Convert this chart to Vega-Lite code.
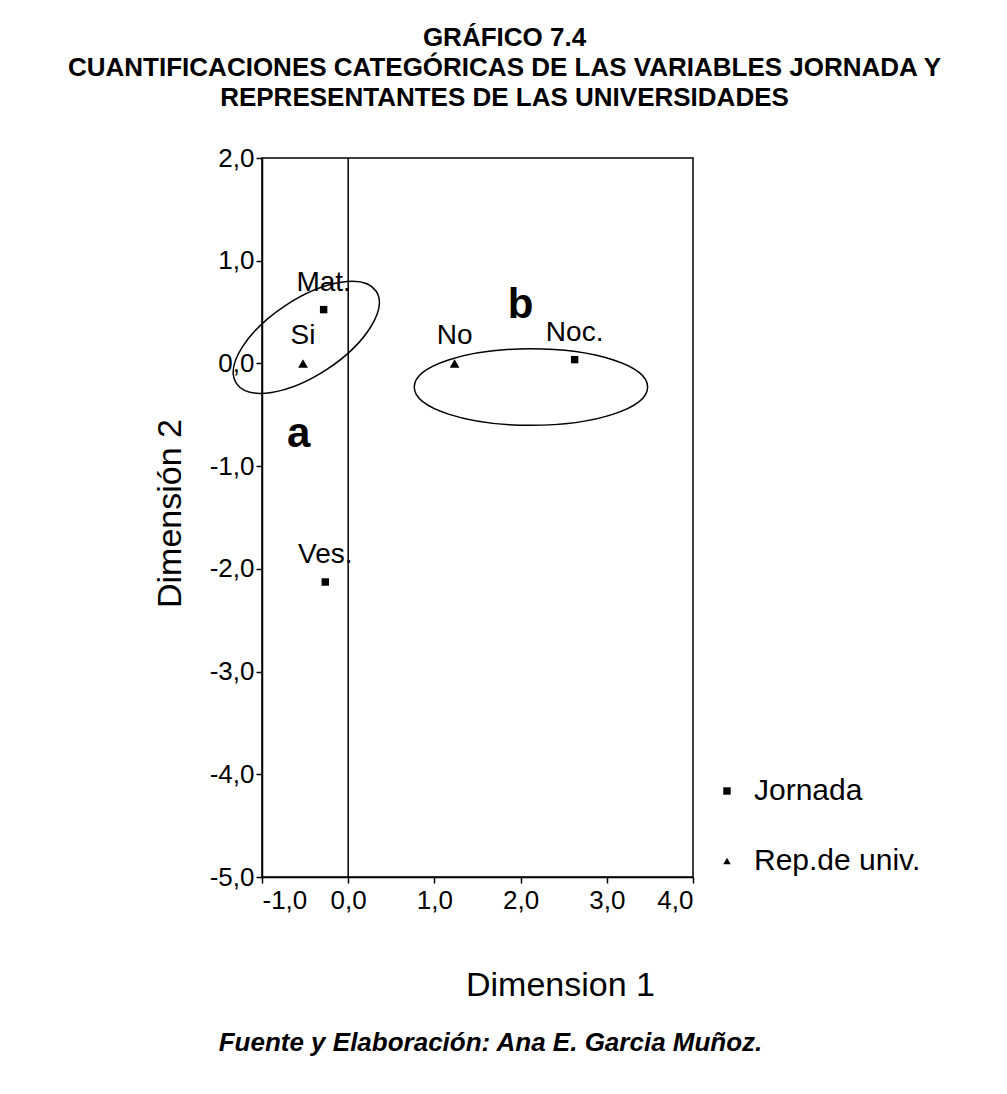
{
  "$schema": "https://vega.github.io/schema/vega-lite/v6.json",
  "width": 431,
  "height": 719,
  "autosize": {"type": "none"},
  "padding": {"left": 262, "top": 158, "right": 314, "bottom": 217},
  "background": "white",
  "config": {
    "font": "Liberation Sans",
    "view": {"stroke": "black", "strokeWidth": 1.5},
    "axis": {"grid": false, "domainColor": "black", "tickColor": "black", "labelColor": "black", "titleColor": "black", "labelFont": "Liberation Sans", "titleFont": "Liberation Sans"}
  },
  "title": {
    "text": ["GRÁFICO 7.4", "CUANTIFICACIONES CATEGÓRICAS DE LAS VARIABLES JORNADA Y", "REPRESENTANTES DE LAS UNIVERSIDADES"],
    "font": "Liberation Sans",
    "fontSize": 26,
    "fontWeight": "bold",
    "lineHeight": 30,
    "anchor": "middle",
    "frame": "group",
    "dx": 27,
    "offset": 34,
    "color": "black"
  },
  "datasets": {
    "puntos": [
      {"categoria": "Mat.", "variable": "Jornada", "dim1": -0.285, "dim2": 0.524},
      {"categoria": "Ves.", "variable": "Jornada", "dim1": -0.266, "dim2": -2.128},
      {"categoria": "Noc.", "variable": "Jornada", "dim1": 2.627, "dim2": 0.037},
      {"categoria": "Si", "variable": "Rep.de univ.", "dim1": -0.524, "dim2": 0.0},
      {"categoria": "No", "variable": "Rep.de univ.", "dim1": 1.234, "dim2": 0.0}
    ],
    "grupos": [
      {"grupo": "a", "dim1": -0.575, "dim2": -0.684},
      {"grupo": "b", "dim1": 2.0, "dim2": 0.566}
    ],
    "elipses": [
      {"grupo": "a", "dim1": -0.486, "dim2": 0.254},
      {"grupo": "b", "dim1": 2.12, "dim2": -0.23}
    ]
  },
  "layer": [
    {
      "encoding": {
        "x": {
          "field": "dim1", "type": "quantitative",
          "scale": {"domain": [-1, 4], "nice": false, "zero": false},
          "axis": {
            "values": [-1, 0, 1, 2, 3, 4],
            "labelExpr": "replace(replace(format(datum.value, '.1f'), '.', ','), '\u2212', '-')",
            "labelFontSize": 26, "tickSize": 6, "tickWidth": 1.5, "domainWidth": 1.5, "labelPadding": 4,
            "title": "Dimension 1", "titleFontSize": 34, "titleFontWeight": "normal",
            "titleX": 298, "titleY": 118, "titleBaseline": "alphabetic", "titleAlign": "center"
          }
        },
        "y": {
          "field": "dim2", "type": "quantitative",
          "scale": {"domain": [-5, 2], "nice": false, "zero": false},
          "axis": {
            "values": [-5, -4, -3, -2, -1, 0, 1, 2],
            "labelExpr": "replace(replace(format(datum.value, '.1f'), '.', ','), '\u2212', '-')",
            "labelFontSize": 26, "tickSize": 6, "tickWidth": 1.5, "domainWidth": 1.5, "labelPadding": 2,
            "title": "Dimensión 2", "titleFontSize": 34, "titleFontWeight": "normal",
            "titleX": -82, "titleY": 355, "titleAngle": 270, "titleBaseline": "alphabetic", "titleAlign": "center"
          }
        }
      },
      "layer": [
        {
          "data": {"values": [{}]},
          "mark": {"type": "rule", "color": "black", "strokeWidth": 1.5},
          "encoding": {
            "x": {"datum": -1, "type": "quantitative"},
            "x2": {"datum": 4},
            "y": {"datum": 0, "type": "quantitative"}
          }
        },
        {
          "data": {"name": "elipses"},
          "transform": [{"filter": "datum.grupo == 'a'"}],
          "mark": {"type": "point", "shape": "M-1,0A1,0.455,0,1,0,1,0A1,0.455,0,1,0,-1,0Z", "size": 28022, "angle": 326.6, "filled": false, "stroke": "black", "strokeWidth": 1.5, "opacity": 1}
        },
        {
          "data": {"name": "elipses"},
          "transform": [{"filter": "datum.grupo == 'b'"}],
          "mark": {"type": "point", "shape": "M-1,0A1,0.328,0,1,0,1,0A1,0.328,0,1,0,-1,0Z", "size": 54476, "filled": false, "stroke": "black", "strokeWidth": 1.5, "opacity": 1}
        },
        {
          "data": {"name": "puntos"},
          "transform": [{"filter": "datum.variable == 'Jornada'"}],
          "mark": {"type": "point", "filled": true, "color": "black", "opacity": 1, "strokeWidth": 0, "size": 55},
          "encoding": {
            "shape": {
              "field": "variable", "type": "nominal",
              "scale": {"domain": ["Jornada", "Rep.de univ."], "range": ["square", "triangle-up"]},
              "legend": {
                "orient": "none", "legendX": 450, "legendY": 618, "title": null,
                "labelFontSize": 30, "labelFont": "Liberation Sans", "labelColor": "black", "labelLimit": 400,
                "symbolSize": 55, "symbolFillColor": "black", "symbolStrokeColor": "black", "symbolOpacity": 1, "symbolStrokeWidth": 0,
                "rowPadding": 40, "labelOffset": 12, "padding": 0
              }
            }
          }
        },
        {
          "data": {"name": "puntos"},
          "transform": [{"filter": "datum.variable == 'Rep.de univ.'"}],
          "mark": {"type": "point", "filled": true, "color": "black", "opacity": 1, "strokeWidth": 0, "size": 95},
          "encoding": {
            "shape": {
              "field": "variable", "type": "nominal",
              "scale": {"domain": ["Jornada", "Rep.de univ."], "range": ["square", "triangle-up"]}
            }
          }
        },
        {
          "data": {"name": "puntos"},
          "mark": {"type": "text", "fontSize": 28, "dy": -19, "baseline": "alphabetic", "align": "center", "color": "black"},
          "encoding": {"text": {"field": "categoria"}}
        },
        {
          "data": {"name": "grupos"},
          "mark": {"type": "text", "fontSize": 42, "fontWeight": "bold", "baseline": "middle", "align": "center", "color": "black"},
          "encoding": {"text": {"field": "grupo"}}
        }
      ]
    },
    {
      "data": {"values": [{}]},
      "mark": {"type": "rule", "color": "black", "strokeWidth": 1.5},
      "encoding": {
        "x": {
          "datum": 0, "type": "quantitative",
          "scale": {"domain": [-1, 4], "nice": false, "zero": false},
          "axis": {
            "orient": "bottom", "labels": false, "ticks": false, "domain": false, "grid": false,
            "title": "Fuente y Elaboración: Ana E. Garcia Muñoz.",
            "titleFontSize": 26, "titleFontWeight": "bold", "titleFontStyle": "italic",
            "titleX": 228, "titleY": 173, "titleBaseline": "alphabetic", "titleAlign": "center"
          }
        },
        "y": {"datum": -5, "type": "quantitative"},
        "y2": {"datum": 2}
      }
    }
  ],
  "resolve": {"axis": {"x": "independent"}}
}
